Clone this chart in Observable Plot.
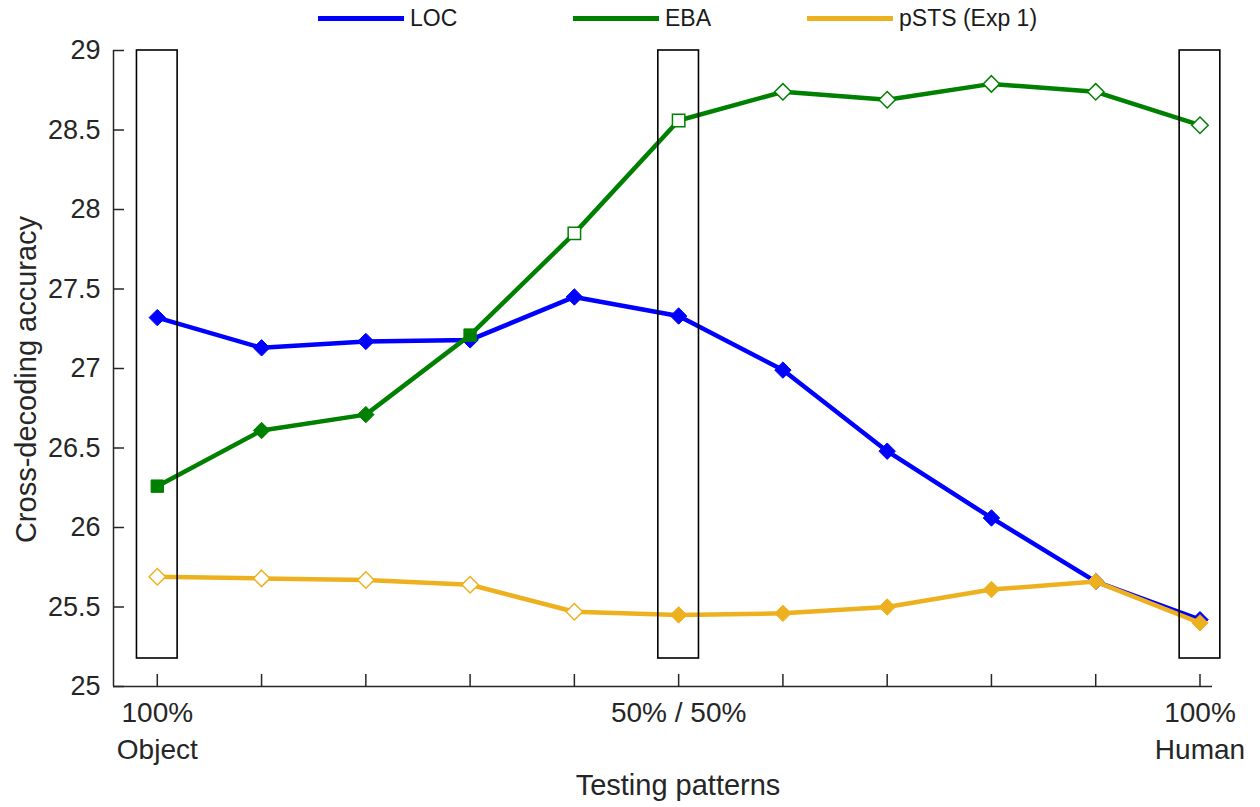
<!DOCTYPE html>
<html>
<head>
<meta charset="utf-8">
<script src="https://cdn.jsdelivr.net/npm/d3@7"></script>
<script src="https://cdn.jsdelivr.net/npm/@observablehq/plot@0.6"></script>
<style>
  html, body { margin: 0; padding: 0; background: #fff; }
  body { width: 1260px; height: 807px; overflow: hidden; font-family: "Liberation Sans", Arial, sans-serif; }
  #legend { position: relative; height: 36px; width: 1260px; }
  .lg-line { position: absolute; top: 16px; height: 4.5px; }
  .lg-text { position: absolute; top: 4px; font-size: 23px; line-height: 28px; color: #1a1a1a; }
</style>
</head>
<body>
<div id="legend"></div>
<div id="chart"></div>
<script>
// ---- data ----
const xIndex = [0, 1, 2, 3, 4, 5, 6, 7, 8, 9, 10];
const seriesNames = ["LOC", "EBA", "pSTS (Exp 1)"];
const locValues  = [27.32, 27.13, 27.17, 27.18, 27.45, 27.33, 26.99, 26.48, 26.06, 25.66, 25.42];
const ebaValues  = [26.26, 26.61, 26.71, 27.21, 27.85, 28.56, 28.74, 28.69, 28.79, 28.74, 28.53];
const pstsValues = [25.69, 25.68, 25.67, 25.64, 25.47, 25.45, 25.46, 25.50, 25.61, 25.66, 25.40];
// marker shapes and significance (filled = significant)
const locShape  = ["d","d","d","d","d","d","d","d","d","d","d"];
const locFilled = [1,1,1,1,1,1,1,1,1,1,1];
const ebaShape  = ["s","d","d","s","s","s","d","d","d","d","d"];
const ebaFilled = [1,1,1,1,0,0,0,0,0,0,0];
const pstsShape  = ["d","d","d","d","d","d","d","d","d","d","d"];
const pstsFilled = [0,0,0,0,0,1,1,1,1,1,1];
const highlightAt = [0, 5, 10];
const yTicks = [25, 25.5, 26, 26.5, 27, 27.5, 28, 28.5, 29];
const xTickLabels = [
  {x: 0, label: "100%\nObject"},
  {x: 5, label: "50% / 50%"},
  {x: 10, label: "100%\nHuman"}
];
const xLabel = "Testing patterns";
const yLabel = "Cross-decoding accuracy";

// ---- layout ----
const colors = ["#0000ff", "#008000", "#edb120"];
const W = 1260, H = 771;
const mL = 113, mR = 48, mT = 14, mB = 121;
const xDom = [-0.42, 10.12], yDom = [25, 29];
const pxX = (W - mL - mR) / (xDom[1] - xDom[0]);
const pxY = (H - mT - mB) / (yDom[1] - yDom[0]);
const ink = "#262626";
const FONT = "'Liberation Sans', Arial, sans-serif";

const series = [
  {name: seriesNames[0], values: locValues, shape: locShape, filled: locFilled, color: colors[0]},
  {name: seriesNames[1], values: ebaValues, shape: ebaShape, filled: ebaFilled, color: colors[1]},
  {name: seriesNames[2], values: pstsValues, shape: pstsShape, filled: pstsFilled, color: colors[2]}
];

// legend
const legend = document.getElementById("legend");
const legendPos = [318, 573, 807];
series.forEach((s, i) => {
  const l = document.createElement("div");
  l.className = "lg-line";
  l.style.left = legendPos[i] + "px";
  l.style.width = "86px";
  l.style.background = s.color;
  legend.appendChild(l);
  const t = document.createElement("div");
  t.className = "lg-text";
  t.style.left = (legendPos[i] + 92) + "px";
  t.textContent = s.name;
  legend.appendChild(t);
});

const marks = [];
// axis lines
marks.push(Plot.ruleX([xDom[0]], {y1: yDom[0], y2: yDom[1], stroke: ink, strokeWidth: 1.5}));
marks.push(Plot.ruleY([yDom[0]], {x1: xDom[0], x2: xDom[1], stroke: ink, strokeWidth: 1.5}));
// inward ticks
marks.push(Plot.ruleY(yTicks, {y: d => d, x1: xDom[0], x2: xDom[0] + 11 / pxX, stroke: ink, strokeWidth: 1.5}));
marks.push(Plot.ruleX(xIndex, {x: d => d, y1: yDom[0], y2: yDom[0] + 12 / pxY, stroke: ink, strokeWidth: 1.5}));
// tick labels
marks.push(Plot.axisY({ticks: yTicks, tickSize: 0, tickPadding: 13, fontSize: 27, label: null, tickFormat: d => String(d), fill: ink}));
marks.push(Plot.text(xTickLabels, {x: "x", text: "label", frameAnchor: "bottom", lineAnchor: "top", dy: 9, fontSize: 28, lineHeight: 1.33, fill: ink}));
marks.push(Plot.text([xLabel], {frameAnchor: "bottom", textAnchor: "middle", dy: 108, dx: 15, fontSize: 29, fill: ink}));
marks.push(Plot.text([yLabel], {frameAnchor: "left", textAnchor: "middle", rotate: -90, dx: -87, dy: 11, fontSize: 29, fill: ink}));

// series
series.forEach(s => {
  const rows = xIndex.map((x, i) => ({x, y: s.values[i], shape: s.shape[i], filled: s.filled[i]}));
  marks.push(Plot.line(rows, {x: "x", y: "y", stroke: s.color, strokeWidth: 4.5, strokeLinejoin: "round"}));
  const combos = [["d", 1], ["d", 0], ["s", 1], ["s", 0]];
  combos.forEach(([sh, f]) => {
    const sub = rows.filter(r => r.shape === sh && r.filled === f);
    if (!sub.length) return;
    marks.push(Plot.dot(sub, {
      x: "x", y: "y",
      symbol: sh === "d" ? "diamond2" : "square",
      r: sh === "d" ? 7.4 : 7,
      fill: f ? s.color : "white",
      stroke: s.color,
      strokeWidth: f ? 1 : 1.5
    }));
  });
});

// highlight boxes
marks.push(Plot.rect(highlightAt, {
  x1: d => d - 0.195, x2: d => d + 0.195,
  y1: yDom[0] + 28 / pxY, y2: yDom[1],
  fill: "none", stroke: "black", strokeWidth: 1.6
}));

const chart = Plot.plot({
  width: W, height: H,
  marginLeft: mL, marginRight: mR, marginTop: mT, marginBottom: mB,
  x: {domain: xDom, axis: null},
  y: {domain: yDom, axis: null},
  style: {fontFamily: FONT, background: "white", overflow: "visible", color: ink},
  marks
});
document.getElementById("chart").appendChild(chart);
</script>
</body>
</html>
